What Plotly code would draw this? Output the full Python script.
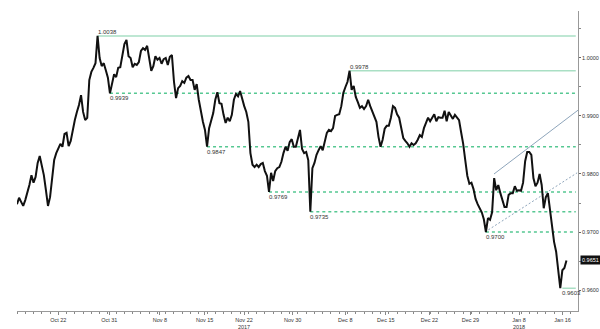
import pandas as pd
import plotly.graph_objects as go

# ---------------- data ----------------
series_start = "2017-10-16 00:00"
series_end = "2018-01-16 12:00"
sample_freq = "6h"

price = [
    0.9748, 0.9759, 0.9752, 0.9745, 0.9755, 0.9767, 0.9781, 0.9798, 0.9785, 0.9795,
    0.9819, 0.9831, 0.9814, 0.9798, 0.9772, 0.9745, 0.9760, 0.9793, 0.9824, 0.9836,
    0.9843, 0.9852, 0.9847, 0.9869, 0.9871, 0.9848, 0.9857, 0.9876, 0.9893, 0.9907,
    0.9919, 0.9936, 0.9907, 0.9893, 0.9897, 0.9962, 0.9976, 0.9983, 0.9991, 1.0038,
    1.0000, 0.9986, 0.9991, 0.9979, 0.9966, 0.9939, 0.9955, 0.9972, 0.9967, 0.9983,
    0.9984, 1.0005, 1.0024, 1.0031, 1.0003, 1.0000, 0.9984, 0.9990, 0.9988, 0.9993,
    1.0012, 1.0017, 1.0014, 1.0021, 0.9997, 0.9978, 0.9986, 1.0003, 0.9997, 1.0000,
    0.9990, 0.9998, 1.0000, 0.9988, 1.0002, 1.0005, 0.9959, 0.9931, 0.9948, 0.9952,
    0.9960, 0.9957, 0.9966, 0.9969, 0.9962, 0.9962, 0.9945, 0.9955, 0.9928, 0.9907,
    0.9890, 0.9876, 0.9847, 0.9879, 0.9890, 0.9905, 0.9928, 0.9941, 0.9922, 0.9921,
    0.9902, 0.9888, 0.9897, 0.9891, 0.9902, 0.9928, 0.9938, 0.9934, 0.9943, 0.9928,
    0.9917, 0.9907, 0.9890, 0.9836, 0.9816, 0.9812, 0.9816, 0.9812, 0.9817, 0.9819,
    0.9805, 0.9797, 0.9769, 0.9802, 0.9788, 0.9805, 0.9810, 0.9812, 0.9821, 0.9836,
    0.9847, 0.9840, 0.9855, 0.9860, 0.9847, 0.9847, 0.9862, 0.9876, 0.9843, 0.9836,
    0.9838, 0.9824, 0.9735, 0.9810, 0.9819, 0.9833, 0.9841, 0.9848, 0.9841, 0.9855,
    0.9871, 0.9876, 0.9874, 0.9879, 0.9900, 0.9902, 0.9903, 0.9917, 0.9940, 0.9950,
    0.9959, 0.9978, 0.9945, 0.9952, 0.9933, 0.9924, 0.9914, 0.9917, 0.9912, 0.9917,
    0.9928, 0.9917, 0.9907, 0.9898, 0.9890, 0.9864, 0.9847, 0.9859, 0.9878, 0.9883,
    0.9883, 0.9897, 0.9917, 0.9914, 0.9903, 0.9897, 0.9876, 0.9862, 0.9857, 0.9853,
    0.9847, 0.9853, 0.9850, 0.9853, 0.9859, 0.9867, 0.9864, 0.9879, 0.9888, 0.9897,
    0.9891, 0.9898, 0.9903, 0.9891, 0.9898, 0.9897, 0.9897, 0.9909, 0.9891, 0.9907,
    0.9902, 0.9895, 0.9902, 0.9897, 0.9893, 0.9872, 0.9852, 0.9824, 0.9797, 0.9783,
    0.9785, 0.9774, 0.9757, 0.9748, 0.9741, 0.9734, 0.9722, 0.9700, 0.9724, 0.9721,
    0.9734, 0.9793, 0.9772, 0.9781, 0.9767, 0.9755, 0.9743, 0.9743, 0.9764, 0.9767,
    0.9767, 0.9779, 0.9771, 0.9772, 0.9771, 0.9785, 0.9822, 0.9838, 0.9838, 0.9833,
    0.9793, 0.9779, 0.9785, 0.9800, 0.9781, 0.9741, 0.9760, 0.9767, 0.9738, 0.9703,
    0.9683, 0.9666, 0.9634, 0.9603, 0.9634, 0.9638, 0.9651,
]

# support / resistance levels: value, start time, solid?, label above?
level_values = [1.0038, 0.9978, 0.9939, 0.9847, 0.9769, 0.9735, 0.9700, 0.9603]
level_starts = ["2017-10-27 18:00", "2017-12-11 06:00", "2017-10-31 06:00",
                "2017-11-16 00:00", "2017-11-27 12:00", "2017-12-04 12:00",
                "2018-01-02 18:00", "2018-01-16 00:00"]
level_solid = [True, True, False, False, False, False, False, True]
level_label_above = [True, True, False, False, False, False, False, False]
level_end = "2018-01-17 15:00"

# trend channel
channel_upper_x = ["2018-01-03 17:30", "2018-01-17 21:30"]
channel_upper_y = [0.9800, 0.9910]
channel_lower_x = ["2018-01-02 15:20", "2018-01-17 19:00"]
channel_lower_y = [0.9700, 0.9802]

last_price = 0.9651

x_tick_vals = ["2017-10-23 00:00", "2017-10-31 04:00", "2017-11-08 07:00",
               "2017-11-15 17:00", "2017-11-22 11:30", "2017-11-30 08:40",
               "2017-12-08 17:30", "2017-12-15 15:20", "2017-12-22 21:50",
               "2017-12-29 21:10", "2018-01-08 18:10", "2018-01-16 00:45"]
x_tick_text = ["Oct 22", "Oct 31", "Nov 8", "Nov 15", "Nov 22<br>2017", "Nov 30",
               "Dec 8", "Dec 15", "Dec 22", "Dec 29", "Jan 8<br>2018", "Jan 16"]
y_tick_vals = [0.96, 0.97, 0.98, 0.99, 1.00]

x_range = ["2017-10-16 00:00", "2018-01-17 21:30"]
y_range = [0.95638, 1.0081]

# ---------------- figure ----------------
times = pd.date_range(series_start, series_end, freq=sample_freq)
times = times[times.dayofweek < 5]
assert len(times) == len(price), (len(times), len(price))

FONT = "Liberation Sans, Arial, sans-serif"
SOLID_GREEN = "#a9dfc4"
DOT_GREEN = "#56c892"
CHANNEL = "#8ea5bb"
TXT = "#333333"

fig = go.Figure()

shapes = []
annotations = []
for v, s, solid, above in zip(level_values, level_starts, level_solid, level_label_above):
    shapes.append(dict(
        type="line", xref="x", yref="y", x0=s, x1=level_end, y0=v, y1=v,
        line=dict(color=SOLID_GREEN if solid else DOT_GREEN, width=1.5,
                  dash="solid" if solid else "3px,3px"),
        layer="below"))
    annotations.append(dict(
        x=s, y=v, xref="x", yref="y", text=f"{v:.4f}", showarrow=False,
        xanchor="left", yanchor="bottom" if above else "top",
        xshift=-1, yshift=0 if above else -1, borderpad=0,
        font=dict(family=FONT, size=6, color=TXT)))

fig.add_trace(go.Scatter(x=channel_upper_x, y=channel_upper_y, mode="lines",
                         line=dict(color=CHANNEL, width=1), hoverinfo="skip"))
fig.add_trace(go.Scatter(x=channel_lower_x, y=channel_lower_y, mode="lines",
                         line=dict(color=CHANNEL, width=1, dash="2px,2px"),
                         hoverinfo="skip"))
fig.add_trace(go.Scatter(x=times, y=price, mode="lines",
                         line=dict(color="#111111", width=2), hoverinfo="skip"))

annotations.append(dict(
    x=1, xref="paper", y=last_price, yref="y", text=f"{last_price:.4f}",
    showarrow=False, xanchor="left", xshift=2, bgcolor="#111111",
    borderpad=1, font=dict(family=FONT, size=5.5, color="white")))

fig.update_layout(
    width=600, height=329,
    margin=dict(l=17, r=22, t=11, b=18, autoexpand=False),
    paper_bgcolor="white", plot_bgcolor="white",
    showlegend=False,
    shapes=shapes, annotations=annotations,
    font=dict(family=FONT, size=5.5, color=TXT),
)
fig.update_xaxes(
    type="date", range=x_range,
    rangebreaks=[dict(bounds=["sat", "mon"])],
    tickmode="array", tickvals=x_tick_vals, ticktext=x_tick_text,
    ticks="outside", ticklen=3, tickcolor="#888888",
    minor=dict(ticks="outside", ticklen=2, tickcolor="#888888", dtick=86400000),
    showline=True, linecolor="#999999", linewidth=1,
    showgrid=False, zeroline=False,
    tickfont=dict(family=FONT, size=5.5, color=TXT),
)
fig.update_yaxes(
    side="right", range=y_range,
    tickmode="array", tickvals=y_tick_vals, tickformat=".4f",
    ticks="outside", ticklen=2, tickcolor="#666666",
    minor=dict(ticks="outside", ticklen=2, tickcolor="#888888", dtick=0.005),
    showline=True, linecolor="#999999", linewidth=1,
    showgrid=False, zeroline=False,
    tickfont=dict(family=FONT, size=5.5, color=TXT),
)

fig.write_html("out.html")
